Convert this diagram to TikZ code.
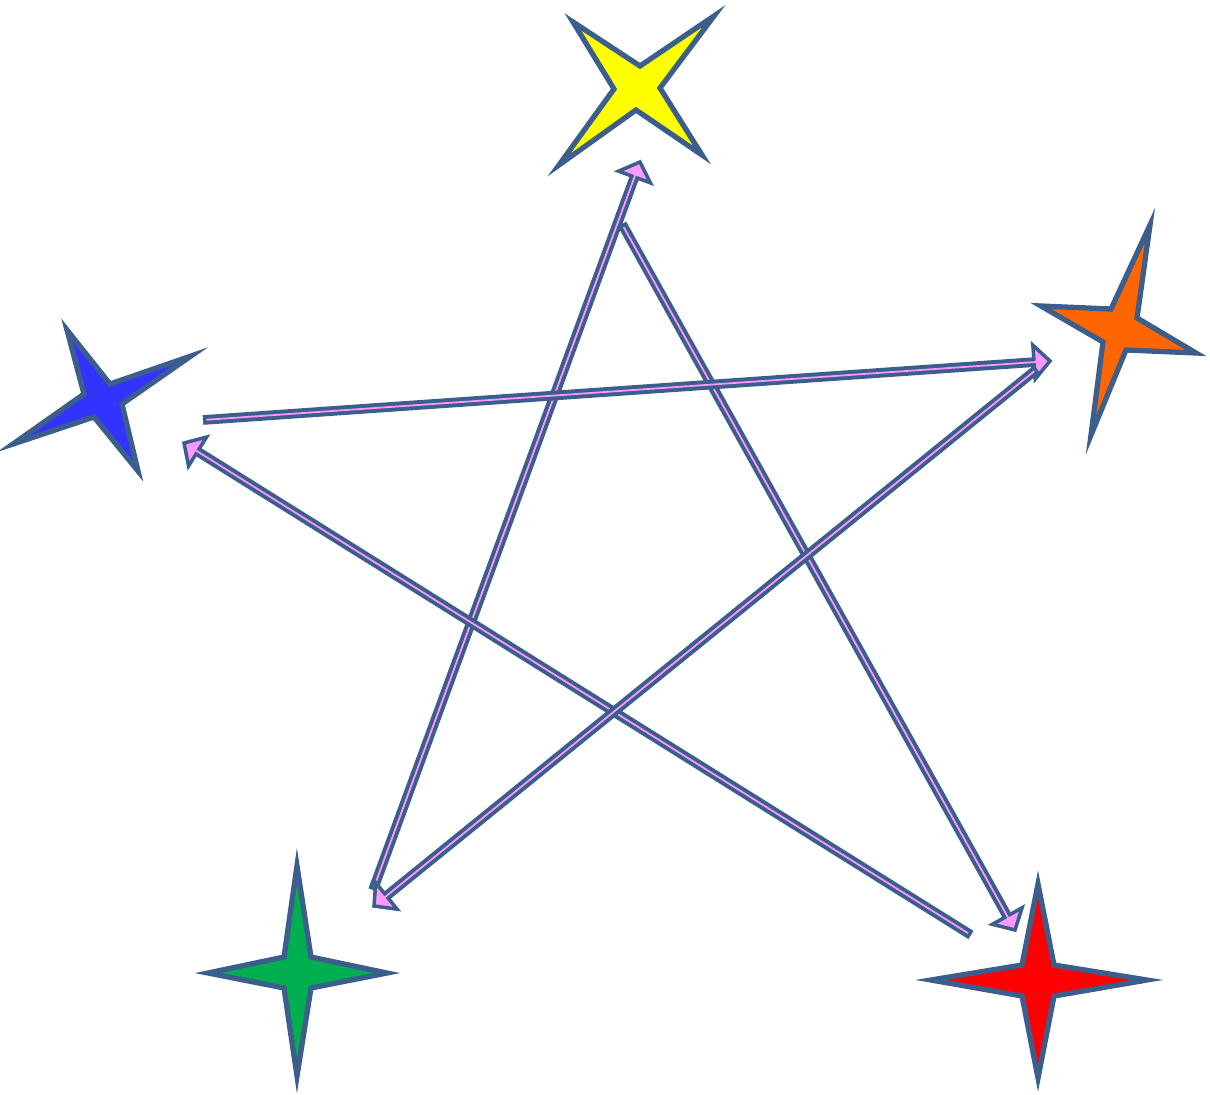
\documentclass[tikz,border=0pt]{standalone}
\usetikzlibrary{calc}
\definecolor{edgeblue}{RGB}{59,94,140}
\definecolor{pinkc}{RGB}{255,153,255}
\definecolor{starY}{RGB}{255,255,0}
\definecolor{starO}{RGB}{255,102,0}
\definecolor{starB}{RGB}{51,51,255}
\definecolor{starG}{RGB}{0,176,80}
\definecolor{starR}{RGB}{255,0,0}
\tikzset{
  starshape/.style={draw=edgeblue, line width=3pt, line join=miter, miter limit=12},
  shaft/.style={draw=edgeblue, line width=5.5pt},
  core/.style={draw=pinkc, line width=1pt},
  head/.style={draw=edgeblue, fill=pinkc, line width=2pt, line join=miter},
}
\newcommand\linkarrow[3]{%
  \coordinate (#3b) at ($(#2)!0.32cm!(#1)$);
  \coordinate (#3l) at ($(#3b)!0.34cm!90:(#2)$);
  \coordinate (#3r) at ($(#3b)!0.34cm!-90:(#2)$);
  \coordinate (#3c) at ($(#2)!0.12cm!(#1)$);
  \draw[shaft] (#1) -- (#3b);
  \draw[head] (#2) -- (#3l) -- (#3r) -- cycle;
  \draw[core, shorten <=2pt] (#1) -- (#3c);
}
\begin{document}
\begin{tikzpicture}[x=0.02cm,y=-0.02cm]
\useasboundingbox (0,0) rectangle (1210,1095);
% stars
\draw[starshape, fill=starY] (573,22) -- (640,66) -- (714,16) -- (660,88) -- (702,155) -- (636,110) -- (559,165) -- (614,89) -- cycle;
\draw[starshape, fill=starO] (1150,225) -- (1137,318) -- (1196,353) -- (1126,350) -- (1091,435) -- (1103,342) -- (1041,306) -- (1111,309) -- cycle;
\draw[starshape, fill=starB] (67,330) -- (110,384) -- (191,356) -- (122,404) -- (138,471) -- (94,417) -- (13,444) -- (84,394) -- cycle;
\draw[starshape, fill=starG] (297,866) -- (311,957) -- (387,973) -- (311,988) -- (297,1076) -- (284,988) -- (208,973) -- (284,957) -- cycle;
\draw[starshape, fill=starR] (1038,884) -- (1054,965) -- (1147,980) -- (1054,996) -- (1038,1078) -- (1022,996) -- (931,980) -- (1022,965) -- cycle;
% connector end points
\coordinate (gy1) at (373,890);  \coordinate (gy2) at (640,162);
\coordinate (yr1) at (622,224);  \coordinate (yr2) at (1015,930);
\coordinate (rb1) at (971,935);  \coordinate (rb2) at (184,443);
\coordinate (bo1) at (203,420);  \coordinate (bo2) at (1050,361);
\coordinate (og1) at (1037,369); \coordinate (og2) at (374,906);
% connectors
\linkarrow{gy1}{gy2}{A}
\linkarrow{yr1}{yr2}{B}
\linkarrow{rb1}{rb2}{C}
\linkarrow{bo1}{bo2}{D}
\linkarrow{og1}{og2}{E}
\end{tikzpicture}
\end{document}
